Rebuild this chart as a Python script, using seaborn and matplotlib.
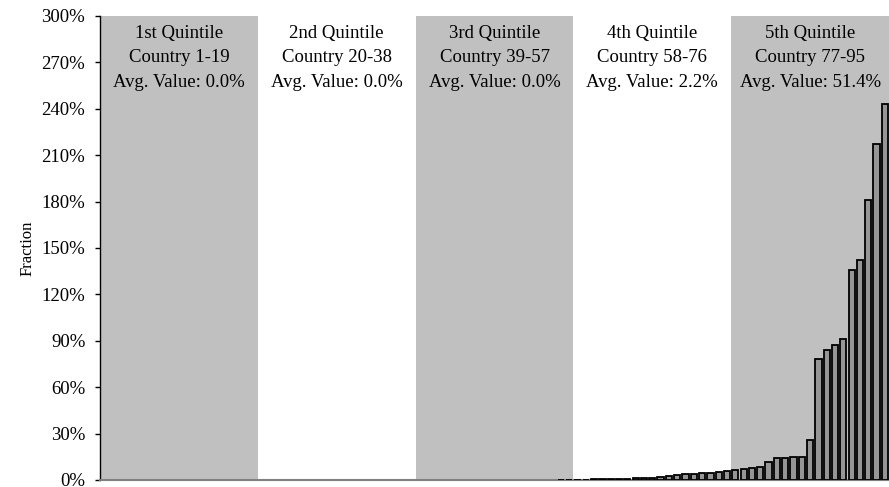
import matplotlib.pyplot as plt
import pandas as pd
import seaborn as sns
from matplotlib.ticker import PercentFormatter, MultipleLocator

# values in percent, countries sorted ascending
zeros = [0.0] * 55
q3_tail = [0.1, 0.2]
q4_values = [0.2, 0.3, 0.4, 0.5, 0.6, 0.7, 0.9, 1.1, 1.3, 1.5,
             1.8, 2.3, 3.0, 4.0, 4.2, 4.4, 4.6, 5.4, 5.8]
q5_values = [6.5, 7.0, 7.5, 8.6, 11.4, 14.0, 14.5, 15.0, 15.0, 26.0,
             78.0, 84.0, 87.0, 91.0, 136.0, 142.0, 181.0, 217.5, 243.0]
values = zeros + q3_tail + q4_values + q5_values
countries = list(range(1, len(values) + 1))

quintile_names = ['1st Quintile', '2nd Quintile', '3rd Quintile', '4th Quintile', '5th Quintile']
quintile_ranges = ['Country 1-19', 'Country 20-38', 'Country 39-57', 'Country 58-76', 'Country 77-95']
quintile_avgs = ['0.0%', '0.0%', '0.0%', '2.2%', '51.4%']

plt.rcParams['font.family'] = ['Liberation Serif', 'DejaVu Serif']

df = pd.DataFrame({'country': countries, 'value': values})

fig = plt.figure(figsize=(8.89, 4.87), dpi=100)
ax = fig.add_axes([100 / 889, 1 - 480 / 487, 789 / 889, 464 / 487])

per_q = len(values) // 5
for k in range(5):
    if k % 2 == 0:
        ax.axvspan(k * per_q - 0.5, (k + 1) * per_q - 0.5, color='#c0c0c0', lw=0, zorder=0)
    ax.text((k + 0.5) * per_q - 0.5, 294.5,
            f'{quintile_names[k]}\n{quintile_ranges[k]}\nAvg. Value: {quintile_avgs[k]}',
            ha='center', va='top', fontsize=13.5, linespacing=1.58, zorder=4)

sns.barplot(data=df, x='country', y='value', color='#969696', saturation=1,
            edgecolor='black', linewidth=1.3, width=0.75, ax=ax, zorder=3)
for p in ax.patches:
    if p.get_height() == 0:
        p.set_linewidth(0)

ax.set_xlim(-0.5, len(values) - 0.5)
ax.set_ylim(0, 300)
ax.yaxis.set_major_locator(MultipleLocator(30))
ax.yaxis.set_major_formatter(PercentFormatter(xmax=100, decimals=0))
ax.set_xticks([])
ax.set_xlabel('')
ax.set_ylabel('Fraction', fontsize=12, labelpad=4)
ax.tick_params(axis='y', labelsize=13.5, length=3.6, width=1, direction='out', pad=7)

for side in ['top', 'right']:
    ax.spines[side].set_visible(False)
ax.spines['left'].set_linewidth(1)
ax.spines['left'].set_color('black')
ax.spines['bottom'].set_color('#808080')
ax.spines['bottom'].set_linewidth(1.5)
ax.set_facecolor('white')

fig.savefig('out.png', dpi=100)
